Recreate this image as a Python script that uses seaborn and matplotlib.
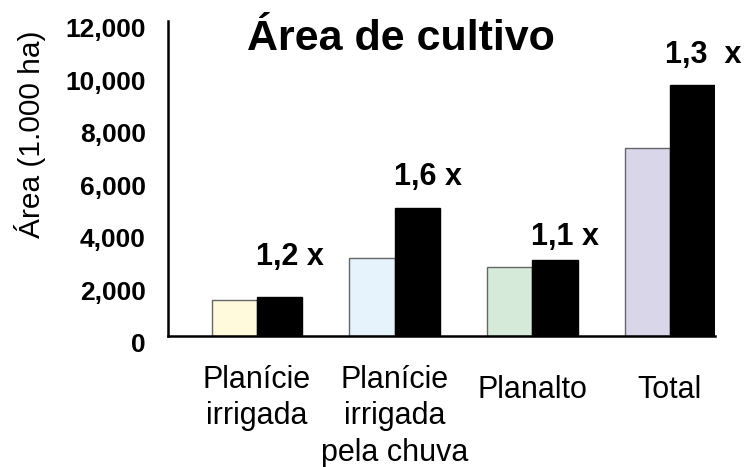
import pandas as pd
import matplotlib.pyplot as plt
import matplotlib.transforms as mtransforms
import seaborn as sns

# data (area in 1.000 ha)
regioes = ["Planície\nirrigada", "Planície\nirrigada\npela chuva", "Planalto", "Total"]
area_antes = [1370, 2970, 2630, 7160]
area_depois = [1490, 4880, 2900, 9560]
razoes = ["1,2 x", "1,6 x", "1,1 x", "1,3  x"]
razoes_y = [2700, 5750, 3470, 10400]
cores_claras = ["#FFFADC", "#E6F3FC", "#D5EAD8", "#D9D6EA"]

df = pd.DataFrame({
    "regiao": regioes * 2,
    "periodo": ["antes"] * 4 + ["depois"] * 4,
    "area": area_antes + area_depois,
})

sns.set_style("white")
plt.rcParams["font.family"] = ["Liberation Sans", "DejaVu Sans"]
plt.rcParams["text.color"] = "black"
plt.rcParams["xtick.color"] = "black"
plt.rcParams["ytick.color"] = "black"

fig = plt.figure(figsize=(7.44, 4.67), dpi=100)
ax = fig.add_axes([168 / 744, 1 - 336 / 467, (715 - 168) / 744, (336 - 21) / 467])

sns.barplot(data=df, x="regiao", y="area", hue="periodo",
            palette=["white", "black"], width=0.66, saturation=1,
            legend=False, ax=ax)

# recolour the light bars, one colour per region
for patch, cor in zip(ax.containers[0], cores_claras):
    patch.set_facecolor(cor)
    patch.set_edgecolor("#666666")
    patch.set_linewidth(1.0)
for patch in ax.containers[1]:
    patch.set_edgecolor("black")
    patch.set_linewidth(1.0)

# ratio labels above the bars
for i, (txt, yv) in enumerate(zip(razoes, razoes_y)):
    ax.text(i + 0.24, yv, txt, ha="center", va="baseline",
            fontsize=22, fontweight="bold", color="black")

ax.set_xlim(-0.646, 3.327)
ax.set_ylim(0, 12000)
ax.set_yticks(range(0, 12001, 2000))
ax.set_yticklabels([f"{v:,}" for v in range(0, 12001, 2000)],
                   fontsize=19, fontweight="bold")
ax.set_xlabel("")
ax.set_ylabel("")

sns.despine(ax=ax)
for s in ["left", "bottom"]:
    ax.spines[s].set_linewidth(1.8)
    ax.spines[s].set_color("black")
ax.tick_params(axis="y", direction="in", length=9.5, width=1.8, pad=16,
               colors="black", labelcolor="black")
ax.tick_params(axis="x", length=0, labelbottom=False)

# nudge the y tick labels a bit down like in the original
shift = mtransforms.ScaledTranslation(0, -5 / 72, fig.dpi_scale_trans)
for lab in ax.get_yticklabels():
    lab.set_transform(lab.get_transform() + shift)

# category labels under the groups (multi-line, top aligned)
trans = mtransforms.blended_transform_factory(ax.transData, ax.transAxes)
for i, nome in enumerate(regioes):
    y0 = -0.092 if "\n" in nome else -0.123
    ax.text(i, y0, nome, transform=trans, ha="center", va="top",
            fontsize=22, linespacing=1.28, color="black")

fig.text(401 / 744, 1 - 50 / 467, "Área de cultivo", ha="center", va="baseline",
         fontsize=31, fontweight="bold", color="black")
fig.text(30 / 744, 1 - 134 / 467, "Área (1.000 ha)", ha="center", va="center",
         rotation=90, fontsize=21.5, color="black")

fig.savefig("out.png", dpi=100)
